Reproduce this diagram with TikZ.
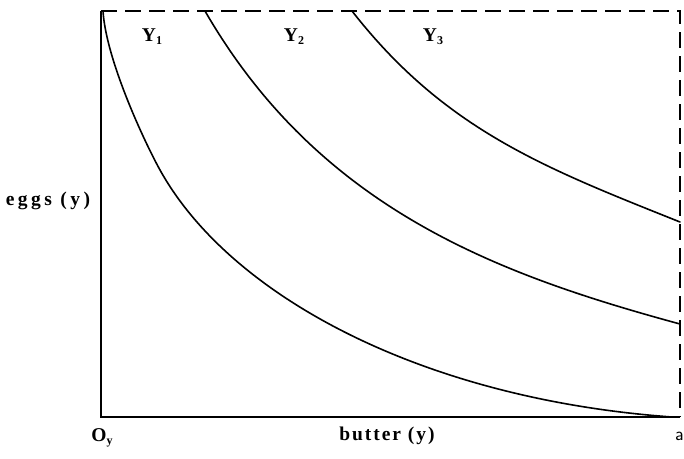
\documentclass[tikz,border=0pt]{standalone}
\usepackage{fontspec}
\setmainfont{Liberation Serif}[LetterSpace=10]
\newcommand{\subx}[1]{\raisebox{-3pt}{\fontsize{12}{12}\selectfont #1}}
\tikzset{
  lbl/.style={font=\fontsize{19.5}{20}\selectfont\bfseries, inner sep=0pt},
  axisline/.style={line width=2pt},
  dashline/.style={line width=2pt, dash pattern=on 16pt off 8pt},
  curveline/.style={line width=1.6pt, line cap=round, line join=round}
}
\begin{document}
\begin{tikzpicture}[x=1pt,y=-1pt]
\useasboundingbox (0,0) rectangle (684,458);
\fill[white] (0,0) rectangle (684,458);
% box
\coordinate (TL) at (101,11);
\coordinate (BL) at (101,417);
\coordinate (BR) at (680,417);
\coordinate (TR) at (680,11);
\draw[axisline] (TL) -- (BL) -- (BR);
\draw[dashline] (TL) -- (TR) -- (BR);
% indifference curves
\coordinate (y1a) at (103,11);
\coordinate (y1b) at (160,170);
\coordinate (y1c) at (672,417);
\draw[curveline] (y1a) .. controls (106,60) and (145,143) .. (y1b)
                       .. controls (230,296) and (422,399) .. (y1c);
\coordinate (y2a) at (205,11);
\coordinate (y2b) at (680,324);
\draw[curveline] (y2a) .. controls (320,210) and (500,275) .. (y2b);
\coordinate (y3a) at (352,11);
\coordinate (y3b) at (680,222);
\draw[curveline] (y3a) .. controls (445,130) and (545,168) .. (y3b);
% labels
\node[lbl] (y1) at (152,37) {Y\subx{1}};
\node[lbl] (y2) at (294,37) {Y\subx{2}};
\node[lbl] (y3) at (433,37) {Y\subx{3}};
\node[lbl] (eggs) at (48,201) {\addfontfeature{LetterSpace=18}eggs (y)};
\node[lbl] (oy) at (102,438) {O\subx{y}};
\node[lbl] (butter) at (387,436) {butter (y)};
\node[font=\fontsize{19}{20}\selectfont\sffamily, inner sep=0pt, anchor=east] (a) at (684,436) {a};
\end{tikzpicture}
\end{document}
